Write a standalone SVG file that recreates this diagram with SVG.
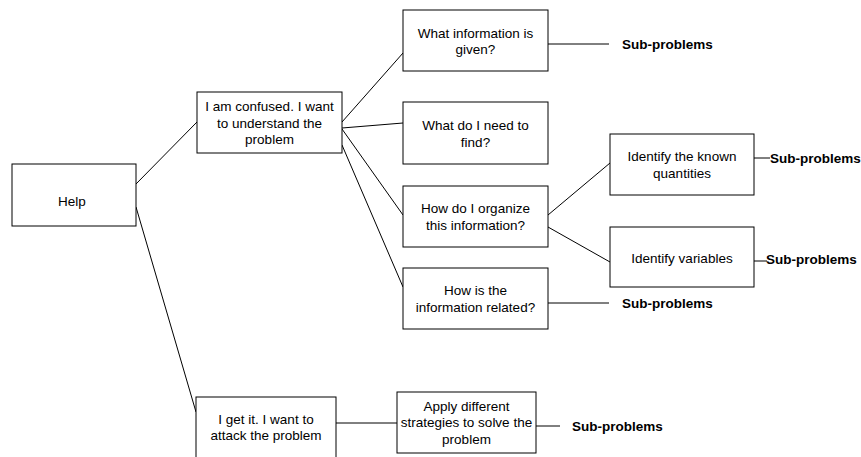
<svg xmlns="http://www.w3.org/2000/svg" width="861" height="457" viewBox="0 0 861 457">
<style>
.box{fill:#fff;stroke:#000;stroke-width:1}
.t{font-family:"Liberation Sans",Arial,sans-serif;font-size:13.5px;fill:#000;text-anchor:middle}
.s{font-family:"Liberation Sans",Arial,sans-serif;font-size:13.5px;font-weight:bold;fill:#000}
.c line{stroke:#000;stroke-width:1}
</style>
<rect width="861" height="457" fill="#fff"/>
<g class="c" id="connectors">
<line x1="136" y1="184" x2="197" y2="122"/>
<line x1="136" y1="207" x2="196" y2="412"/>
<line x1="342" y1="122" x2="403" y2="53"/>
<line x1="342" y1="128" x2="403" y2="123"/>
<line x1="342" y1="129" x2="403" y2="215"/>
<line x1="342" y1="145" x2="403" y2="287"/>
<line x1="548" y1="44" x2="609" y2="44"/>
<line x1="548" y1="215" x2="610" y2="163"/>
<line x1="548" y1="227" x2="610" y2="262"/>
<line x1="548" y1="303" x2="609" y2="303"/>
<line x1="754" y1="158" x2="770" y2="158"/>
<line x1="754" y1="261" x2="767" y2="261"/>
<line x1="336" y1="423" x2="397" y2="423"/>
<line x1="536" y1="426" x2="560" y2="426"/>
</g>
<g id="help"><rect class="box" x="12" y="164" width="124" height="62"/><text class="t" x="72" y="206">Help</text></g>
<g id="confused"><rect class="box" x="197" y="92" width="145" height="61"/><text class="t" x="269.5" y="111">I am confused. I want</text><text class="t" x="269.5" y="128">to understand the</text><text class="t" x="269.5" y="144">problem</text></g>
<g id="given"><rect class="box" x="403" y="10" width="145" height="61"/><text class="t" x="475.5" y="38">What information is</text><text class="t" x="475.5" y="54">given?</text></g>
<g id="find"><rect class="box" x="403" y="102" width="145" height="62"/><text class="t" x="475.5" y="130">What do I need to</text><text class="t" x="475.5" y="147">find?</text></g>
<g id="organize"><rect class="box" x="403" y="186" width="145" height="61"/><text class="t" x="475.5" y="213">How do I organize</text><text class="t" x="475.5" y="230">this information?</text></g>
<g id="related"><rect class="box" x="403" y="268" width="145" height="61"/><text class="t" x="475.5" y="295">How is the</text><text class="t" x="475.5" y="312">information related?</text></g>
<g id="known"><rect class="box" x="610" y="134" width="144" height="61"/><text class="t" x="682" y="161">Identify the known</text><text class="t" x="682" y="178">quantities</text></g>
<g id="variables"><rect class="box" x="610" y="227" width="144" height="60"/><text class="t" x="682" y="263">Identify variables</text></g>
<g id="getit"><rect class="box" x="196" y="397" width="140" height="62"/><text class="t" x="266" y="424">I get it. I want to</text><text class="t" x="266" y="440">attack the problem</text></g>
<g id="apply"><rect class="box" x="397" y="392" width="139" height="61"/><text class="t" x="466.5" y="411">Apply different</text><text class="t" x="466.5" y="427">strategies to solve the</text><text class="t" x="466.5" y="444">problem</text></g>
<g id="sub1"><text class="s" x="622" y="49">Sub-problems</text></g>
<g id="sub2"><text class="s" x="770" y="163">Sub-problems</text></g>
<g id="sub3"><text class="s" x="766" y="264">Sub-problems</text></g>
<g id="sub4"><text class="s" x="622" y="308">Sub-problems</text></g>
<g id="sub5"><text class="s" x="572" y="431">Sub-problems</text></g>
</svg>
